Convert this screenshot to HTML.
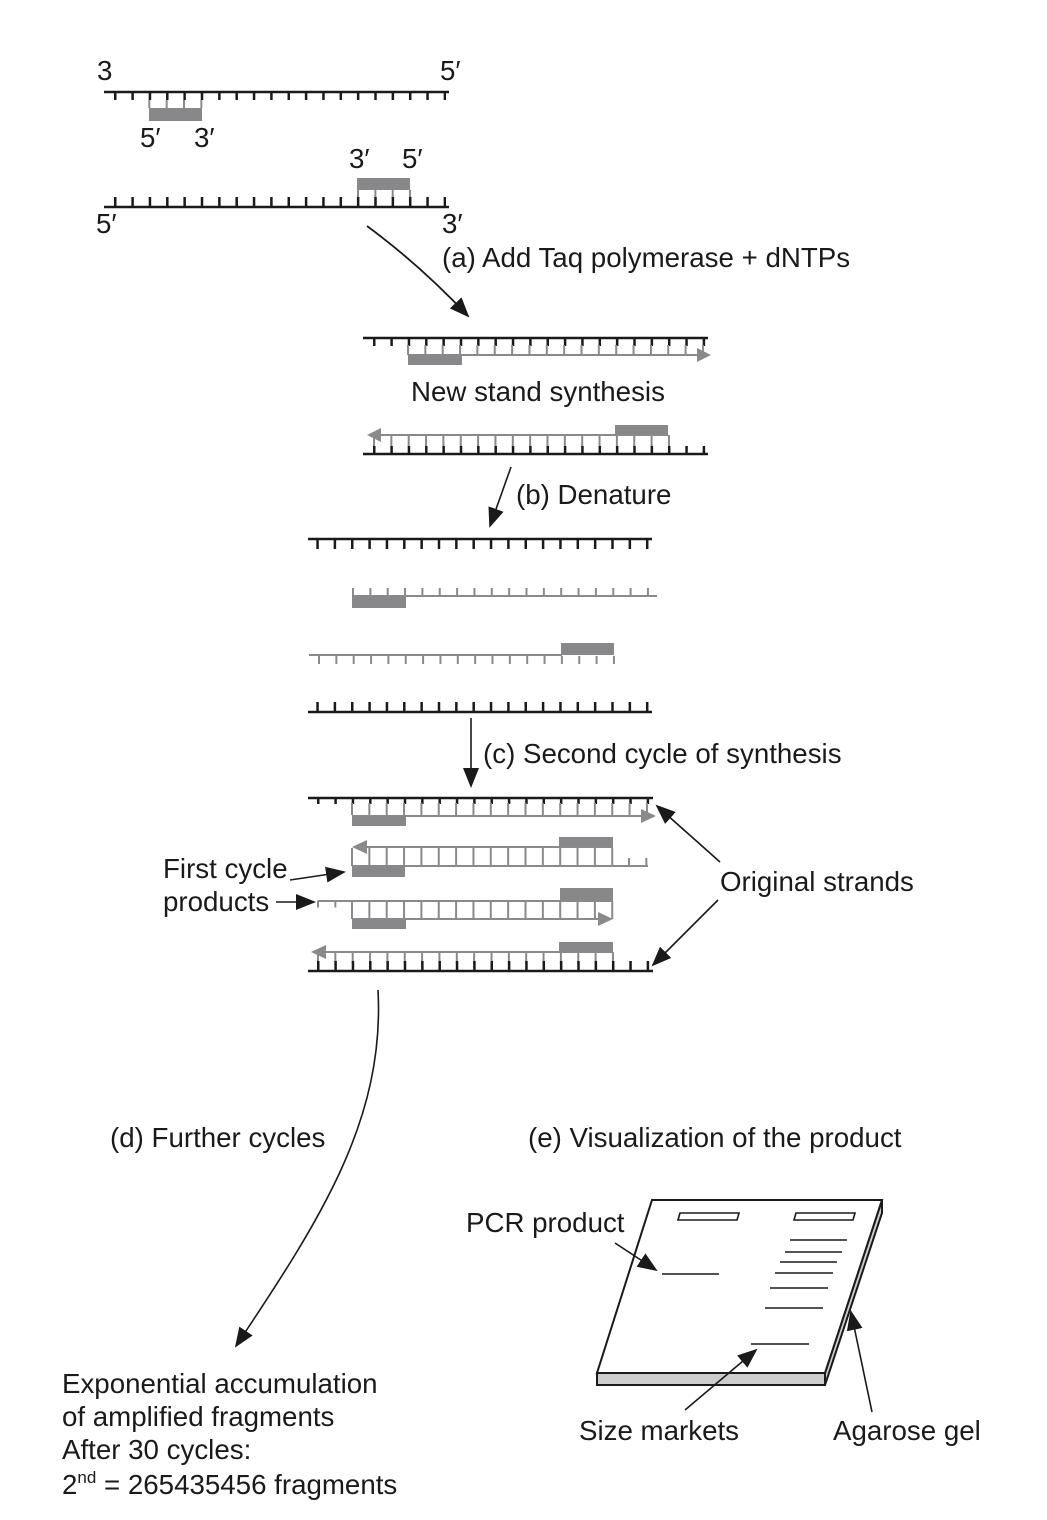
<!DOCTYPE html>
<html><head><meta charset="utf-8"><style>
html,body{margin:0;padding:0;background:#fff}
svg{display:block}
text{font-family:"Liberation Sans",Arial,sans-serif;font-size:27.7px;fill:#1a1a1a}
.k{stroke:#1a1a1a;fill:none}
.g{stroke:#8a8a8c;fill:none}
.tk{stroke:#1a1a1a;stroke-dasharray:2.5 14.85;fill:none}
.tg{stroke:#8a8a8c;stroke-dasharray:2 15.35;fill:none}
.p{fill:#88888a}
</style></head><body>
<svg width="1047" height="1520" viewBox="0 0 1047 1520" xmlns="http://www.w3.org/2000/svg">
<defs>
<marker id="a" viewBox="0 0 10 10" refX="9" refY="5" markerWidth="20" markerHeight="20" orient="auto" markerUnits="userSpaceOnUse"><path d="M0,1 L10,5 L0,9z" fill="#1a1a1a"/></marker>
</defs>

<!-- Section 1 -->
<text x="97" y="80">3</text><text x="440" y="80">5′</text>
<line class="k" x1="104" y1="92" x2="449" y2="92" stroke-width="2.5"/>
<line class="tk" x1="114" y1="96" x2="446" y2="96" stroke-width="8"/>
<line class="tg" x1="148.3" y1="104" x2="203" y2="104" stroke-width="8"/>
<rect class="p" x="149" y="108" width="53" height="13"/>
<text x="140" y="147">5′</text><text x="194" y="147">3′</text>

<text x="349" y="168">3′</text><text x="402" y="168">5′</text>
<rect class="p" x="357" y="178" width="53" height="12"/>
<line class="tg" x1="357" y1="194" x2="411" y2="194" stroke-width="8"/>
<line class="tk" x1="114" y1="202" x2="446" y2="202" stroke-width="10"/>
<line class="k" x1="104" y1="207" x2="449" y2="207" stroke-width="2.5"/>
<text x="96" y="233">5′</text><text x="442" y="233">3′</text>

<path class="k" d="M367,226 Q420,265 468,316" stroke-width="1.8" marker-end="url(#a)"/>
<text x="442" y="267">(a) Add Taq polymerase + dNTPs</text>

<!-- Section 2 -->
<line class="k" x1="363" y1="338" x2="708" y2="338" stroke-width="2.5"/>
<line class="tk" x1="373" y1="342" x2="706" y2="342" stroke-width="8"/>
<line class="tg" x1="407" y1="350" x2="706" y2="350" stroke-width="10"/>
<line class="g" x1="408" y1="355" x2="700" y2="355" stroke-width="2"/>
<path d="M697,348 L711,355 L697,362z" fill="#8a8a8c"/>
<rect class="p" x="408" y="355" width="54" height="10"/>
<text x="411" y="401">New stand synthesis</text>

<rect class="p" x="615" y="425" width="53" height="11"/>
<line class="g" x1="378" y1="435" x2="668" y2="435" stroke-width="2"/>
<path d="M381,428 L367,435 L381,442z" fill="#8a8a8c"/>
<line class="tg" x1="373" y1="441" x2="670" y2="441" stroke-width="12"/>
<line class="tk" x1="373" y1="450" x2="706" y2="450" stroke-width="8"/>
<line class="k" x1="363" y1="454" x2="708" y2="454" stroke-width="2.5"/>

<line class="k" x1="511" y1="467" x2="490" y2="526" stroke-width="1.6" marker-end="url(#a)"/>
<text x="516" y="504">(b) Denature</text>

<!-- Section 3 -->
<line class="k" x1="308" y1="539" x2="652" y2="539" stroke-width="2.5"/>
<line class="tk" x1="316.3" y1="544" x2="650" y2="544" stroke-width="10"/>

<line class="tg" x1="352" y1="592" x2="650" y2="592" stroke-width="8"/>
<line class="g" x1="352" y1="596" x2="657" y2="596" stroke-width="2"/>
<rect class="p" x="352" y="596" width="54" height="12"/>

<rect class="p" x="561" y="643" width="53" height="12"/>
<line class="g" x1="309" y1="655" x2="562" y2="655" stroke-width="2"/>
<line class="tg" x1="318" y1="660" x2="615" y2="660" stroke-width="8"/>

<line class="tk" x1="316.3" y1="707" x2="650" y2="707" stroke-width="10"/>
<line class="k" x1="308" y1="712" x2="652" y2="712" stroke-width="2.5"/>

<line class="k" x1="471" y1="718" x2="471" y2="786" stroke-width="1.6" marker-end="url(#a)"/>
<text x="483" y="763">(c) Second cycle of synthesis</text>

<!-- Section 4 -->
<line class="k" x1="308" y1="798" x2="653" y2="798" stroke-width="2.5"/>
<line class="tk" x1="317" y1="801" x2="650" y2="801" stroke-width="6"/>
<line class="tg" x1="351" y1="809" x2="650" y2="809" stroke-width="12"/>
<line class="g" x1="352" y1="816" x2="646" y2="816" stroke-width="2"/>
<path d="M641,809 L656,816 L641,823z" fill="#8a8a8c"/>
<rect class="p" x="352" y="816" width="54" height="10"/>

<rect class="p" x="559" y="837" width="54" height="11"/>
<line class="g" x1="362" y1="847" x2="612" y2="847" stroke-width="2"/>
<path d="M367,840 L352,847 L367,854z" fill="#8a8a8c"/>
<line class="tg" x1="351" y1="857" x2="614" y2="857" stroke-width="18"/>
<line class="tg" x1="628" y1="862" x2="650" y2="862" stroke-width="8"/>
<line class="g" x1="352" y1="866" x2="648" y2="866" stroke-width="2"/>
<rect class="p" x="352" y="866" width="53" height="11"/>

<rect class="p" x="560" y="888" width="53" height="12"/>
<line class="g" x1="318" y1="901" x2="613" y2="901" stroke-width="2"/>
<line class="tg" x1="317" y1="904" x2="338" y2="904" stroke-width="7"/>
<line class="tg" x1="351" y1="910" x2="614" y2="910" stroke-width="18"/>
<line class="g" x1="352" y1="919" x2="602" y2="919" stroke-width="2"/>
<path d="M598,912 L613,919 L598,926z" fill="#8a8a8c"/>
<rect class="p" x="352" y="919" width="54" height="10"/>

<rect class="p" x="559" y="942" width="54" height="11"/>
<line class="g" x1="322" y1="952" x2="612" y2="952" stroke-width="2"/>
<path d="M326,945 L311,952 L326,959z" fill="#8a8a8c"/>
<line class="tg" x1="317" y1="958" x2="614" y2="958" stroke-width="12"/>
<line class="tk" x1="317" y1="966" x2="650" y2="966" stroke-width="10"/>
<line class="k" x1="308" y1="971" x2="653" y2="971" stroke-width="2.5"/>

<text x="163" y="878">First cycle</text>
<text x="163" y="911">products</text>
<line class="k" x1="290" y1="880" x2="344" y2="872" stroke-width="1.6" marker-end="url(#a)"/>
<line class="k" x1="276" y1="902" x2="314" y2="902" stroke-width="1.6" marker-end="url(#a)"/>
<text x="720" y="891">Original strands</text>
<line class="k" x1="720" y1="862" x2="657" y2="806" stroke-width="1.6" marker-end="url(#a)"/>
<line class="k" x1="718" y1="900" x2="653" y2="965" stroke-width="1.6" marker-end="url(#a)"/>

<!-- d / e -->
<path class="k" d="M378,990 C385,1120 320,1220 236,1346" stroke-width="1.6" marker-end="url(#a)"/>
<text x="110" y="1147">(d) Further cycles</text>
<text x="528" y="1147">(e) Visualization of the product</text>

<text x="62" y="1393">Exponential accumulation</text>
<text x="62" y="1426">of amplified fragments</text>
<text x="62" y="1459">After 30 cycles:</text>
<text x="62" y="1494">2<tspan font-size="17" dy="-11">nd</tspan><tspan dy="11"> = 265435456 fragments</tspan></text>

<!-- Gel -->
<polygon points="597,1373 825,1373 825,1385 597,1385" fill="#ccc" stroke="#1a1a1a" stroke-width="2"/>
<polygon points="825,1373 882,1200 882,1213 825,1385" fill="#ccc" stroke="#1a1a1a" stroke-width="2"/>
<polygon points="652,1200 882,1200 825,1373 597,1373" fill="#fff" stroke="#1a1a1a" stroke-width="2"/>
<polygon points="680,1213 739,1213 737,1220 678,1220" fill="#fff" stroke="#1a1a1a" stroke-width="1.6"/>
<polygon points="796,1213 855,1213 853,1220 794,1220" fill="#fff" stroke="#1a1a1a" stroke-width="1.6"/>
<g class="k" stroke-width="1.6">
<line x1="662" y1="1274" x2="719" y2="1274"/>
<line x1="790" y1="1240" x2="847" y2="1240"/>
<line x1="785" y1="1252" x2="842" y2="1252"/>
<line x1="780" y1="1262" x2="837" y2="1262"/>
<line x1="775" y1="1273" x2="833" y2="1273"/>
<line x1="770" y1="1288" x2="828" y2="1288"/>
<line x1="765" y1="1308" x2="823" y2="1308"/>
<line x1="751" y1="1344" x2="809" y2="1344"/>
</g>
<text x="466" y="1232">PCR product</text>
<line class="k" x1="615" y1="1243" x2="656" y2="1270" stroke-width="1.6" marker-end="url(#a)"/>
<text x="579" y="1440">Size markets</text>
<line class="k" x1="685" y1="1410" x2="756" y2="1350" stroke-width="1.6" marker-end="url(#a)"/>
<text x="833" y="1440">Agarose gel</text>
<line class="k" x1="872" y1="1412" x2="851" y2="1312" stroke-width="1.6" marker-end="url(#a)"/>
</svg>
</body></html>
